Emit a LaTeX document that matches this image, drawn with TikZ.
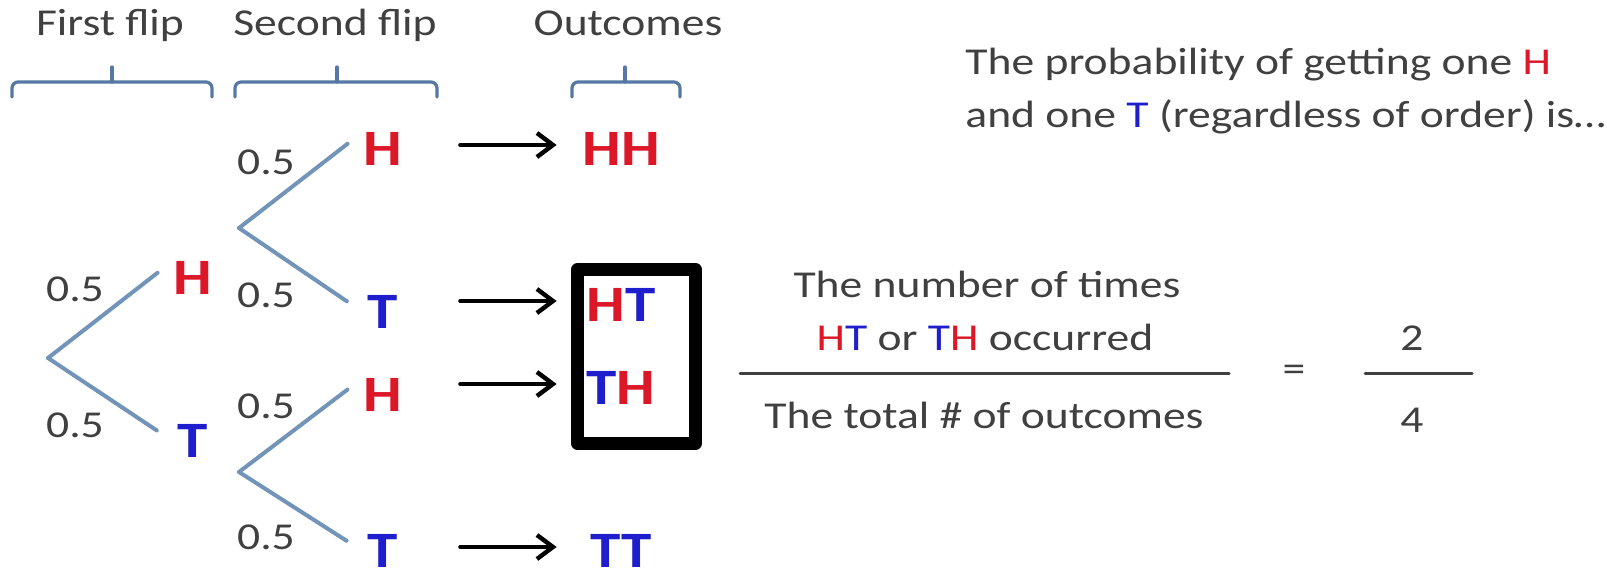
\documentclass[tikz,border=0pt]{standalone}
\usepackage{fontspec}
\setmainfont{Carlito}[FakeStretch=1.2]
\usetikzlibrary{arrows.meta}

\definecolor{txtgray}{RGB}{64,64,64}
\definecolor{headred}{RGB}{220,24,40}
\definecolor{tailblue}{RGB}{30,30,205}
\definecolor{branchblue}{RGB}{115,148,185}
\definecolor{braceblue}{RGB}{85,120,165}

\newcommand{\redH}{\textcolor{headred}{H}}
\newcommand{\blueT}{\textcolor{tailblue}{T}}

\tikzset{
  txt/.style={text=txtgray, font=\fontsize{19}{23}\selectfont, inner sep=0pt},
  coin/.style={font=\fontsize{25.5}{30}\selectfont\bfseries, inner sep=0pt, minimum width=20pt},
  outcome/.style={coin, minimum width=40pt},
  branch/.style={branchblue, line width=2pt, shorten >=9.5pt},
  brace/.style={braceblue, line width=1.6pt},
  result/.style={line width=2.2pt, -{Straight Barb[length=8pt,width=12pt]}, shorten <=28.5pt, shorten >=12pt},
}

\begin{document}
\begin{tikzpicture}[x=0.5pt, y=-0.5pt, line cap=round, line join=round]
  \path[use as bounding box] (0,0) rectangle (1607,580);
  % column headers + braces
  \node[txt, anchor=base] (hdfirst) at (110,35) {First flip};
  \node[txt, anchor=base] (hdsecond) at (335,35) {Second flip};
  \node[txt, anchor=base] (hdout) at (628,35) {Outcomes};
  \foreach \a/\m/\b in {12/112/212, 235/337/437, 572/625/680} {
    \draw[brace, rounded corners=3pt] (\a,97) -- (\a,82) -- (\b,82) -- (\b,97);
    \draw[brace] (\m,82) -- (\m,67);
  }
  % first flip
  \coordinate (root) at (48,358);
  \node[coin, text=headred] (fH) at (193,278) {H};
  \node[coin, text=tailblue] (fT) at (193,441) {T};
  \draw[branch] (root) -- (fH.north west);
  \draw[branch] (root) -- (fT.west);
  \node[txt] (pfH) at (75,289) {0.5};
  \node[txt] (pfT) at (75,425) {0.5};
  % second flip
  \coordinate (forkH) at (239,228);
  \coordinate (forkT) at (239,472);
  \node[coin, text=headred] (sHH) at (383,149) {H};
  \node[coin, text=tailblue] (sHT) at (383,312) {T};
  \node[coin, text=headred] (sTH) at (383,395) {H};
  \node[coin, text=tailblue] (sTT) at (383,551) {T};
  \draw[branch] (forkH) -- (sHH.north west);
  \draw[branch] (forkH) -- (sHT.west);
  \draw[branch] (forkT) -- (sTH.north west);
  \draw[branch] (forkT) -- (sTT.west);
  \node[txt] (pHH) at (266,162) {0.5};
  \node[txt] (pHT) at (266,295) {0.5};
  \node[txt] (pTH) at (266,406) {0.5};
  \node[txt] (pTT) at (266,537) {0.5};
  % outcomes
  \node[outcome] (oHH) at (621,149) {\redH\redH};
  \node[outcome] (oHT) at (621,305) {\redH\blueT};
  \node[outcome] (oTH) at (621,388) {\blueT\redH};
  \node[outcome] (oTT) at (621,551) {\blueT\blueT};
  \foreach \s/\o in {sHH/oHH, sHT/oHT, sTH/oTH, sTT/oTT} {
    \draw[result] ([yshift=2pt]\o.west -| \s.east) -- ([yshift=2pt]\o.west);
  }
  \node[draw, line width=6.5pt, minimum width=59pt, minimum height=87pt, inner sep=0pt] (pick) at (636.5,356.5) {};
  % question
  \node[txt, anchor=base west] (ask1) at (965,74) {The probability of getting one \redH};
  \node[txt, anchor=base west] (ask2) at (965,127) {and one \blueT\ (regardless of order) is\ldots};
  % ratio
  \node[txt, anchor=base] (num1) at (987,297) {The number of times};
  \node[txt, anchor=base] (num2) at (985,350) {\redH\blueT\ or \blueT\redH\ occurred};
  \node[txt, anchor=base] (den) at (984,428) {The total \# of outcomes};
  \draw[txtgray, line width=1.5pt] (740,373) -- (1229,373);
  \node[txt] (eq) at (1294,373) {=};
  \node[txt, anchor=base] (two) at (1412,350) {2};
  \node[txt, anchor=base] (four) at (1412,432) {4};
  \draw[txtgray, line width=1.5pt] (1365,373) -- (1472,373);
\end{tikzpicture}
\end{document}
